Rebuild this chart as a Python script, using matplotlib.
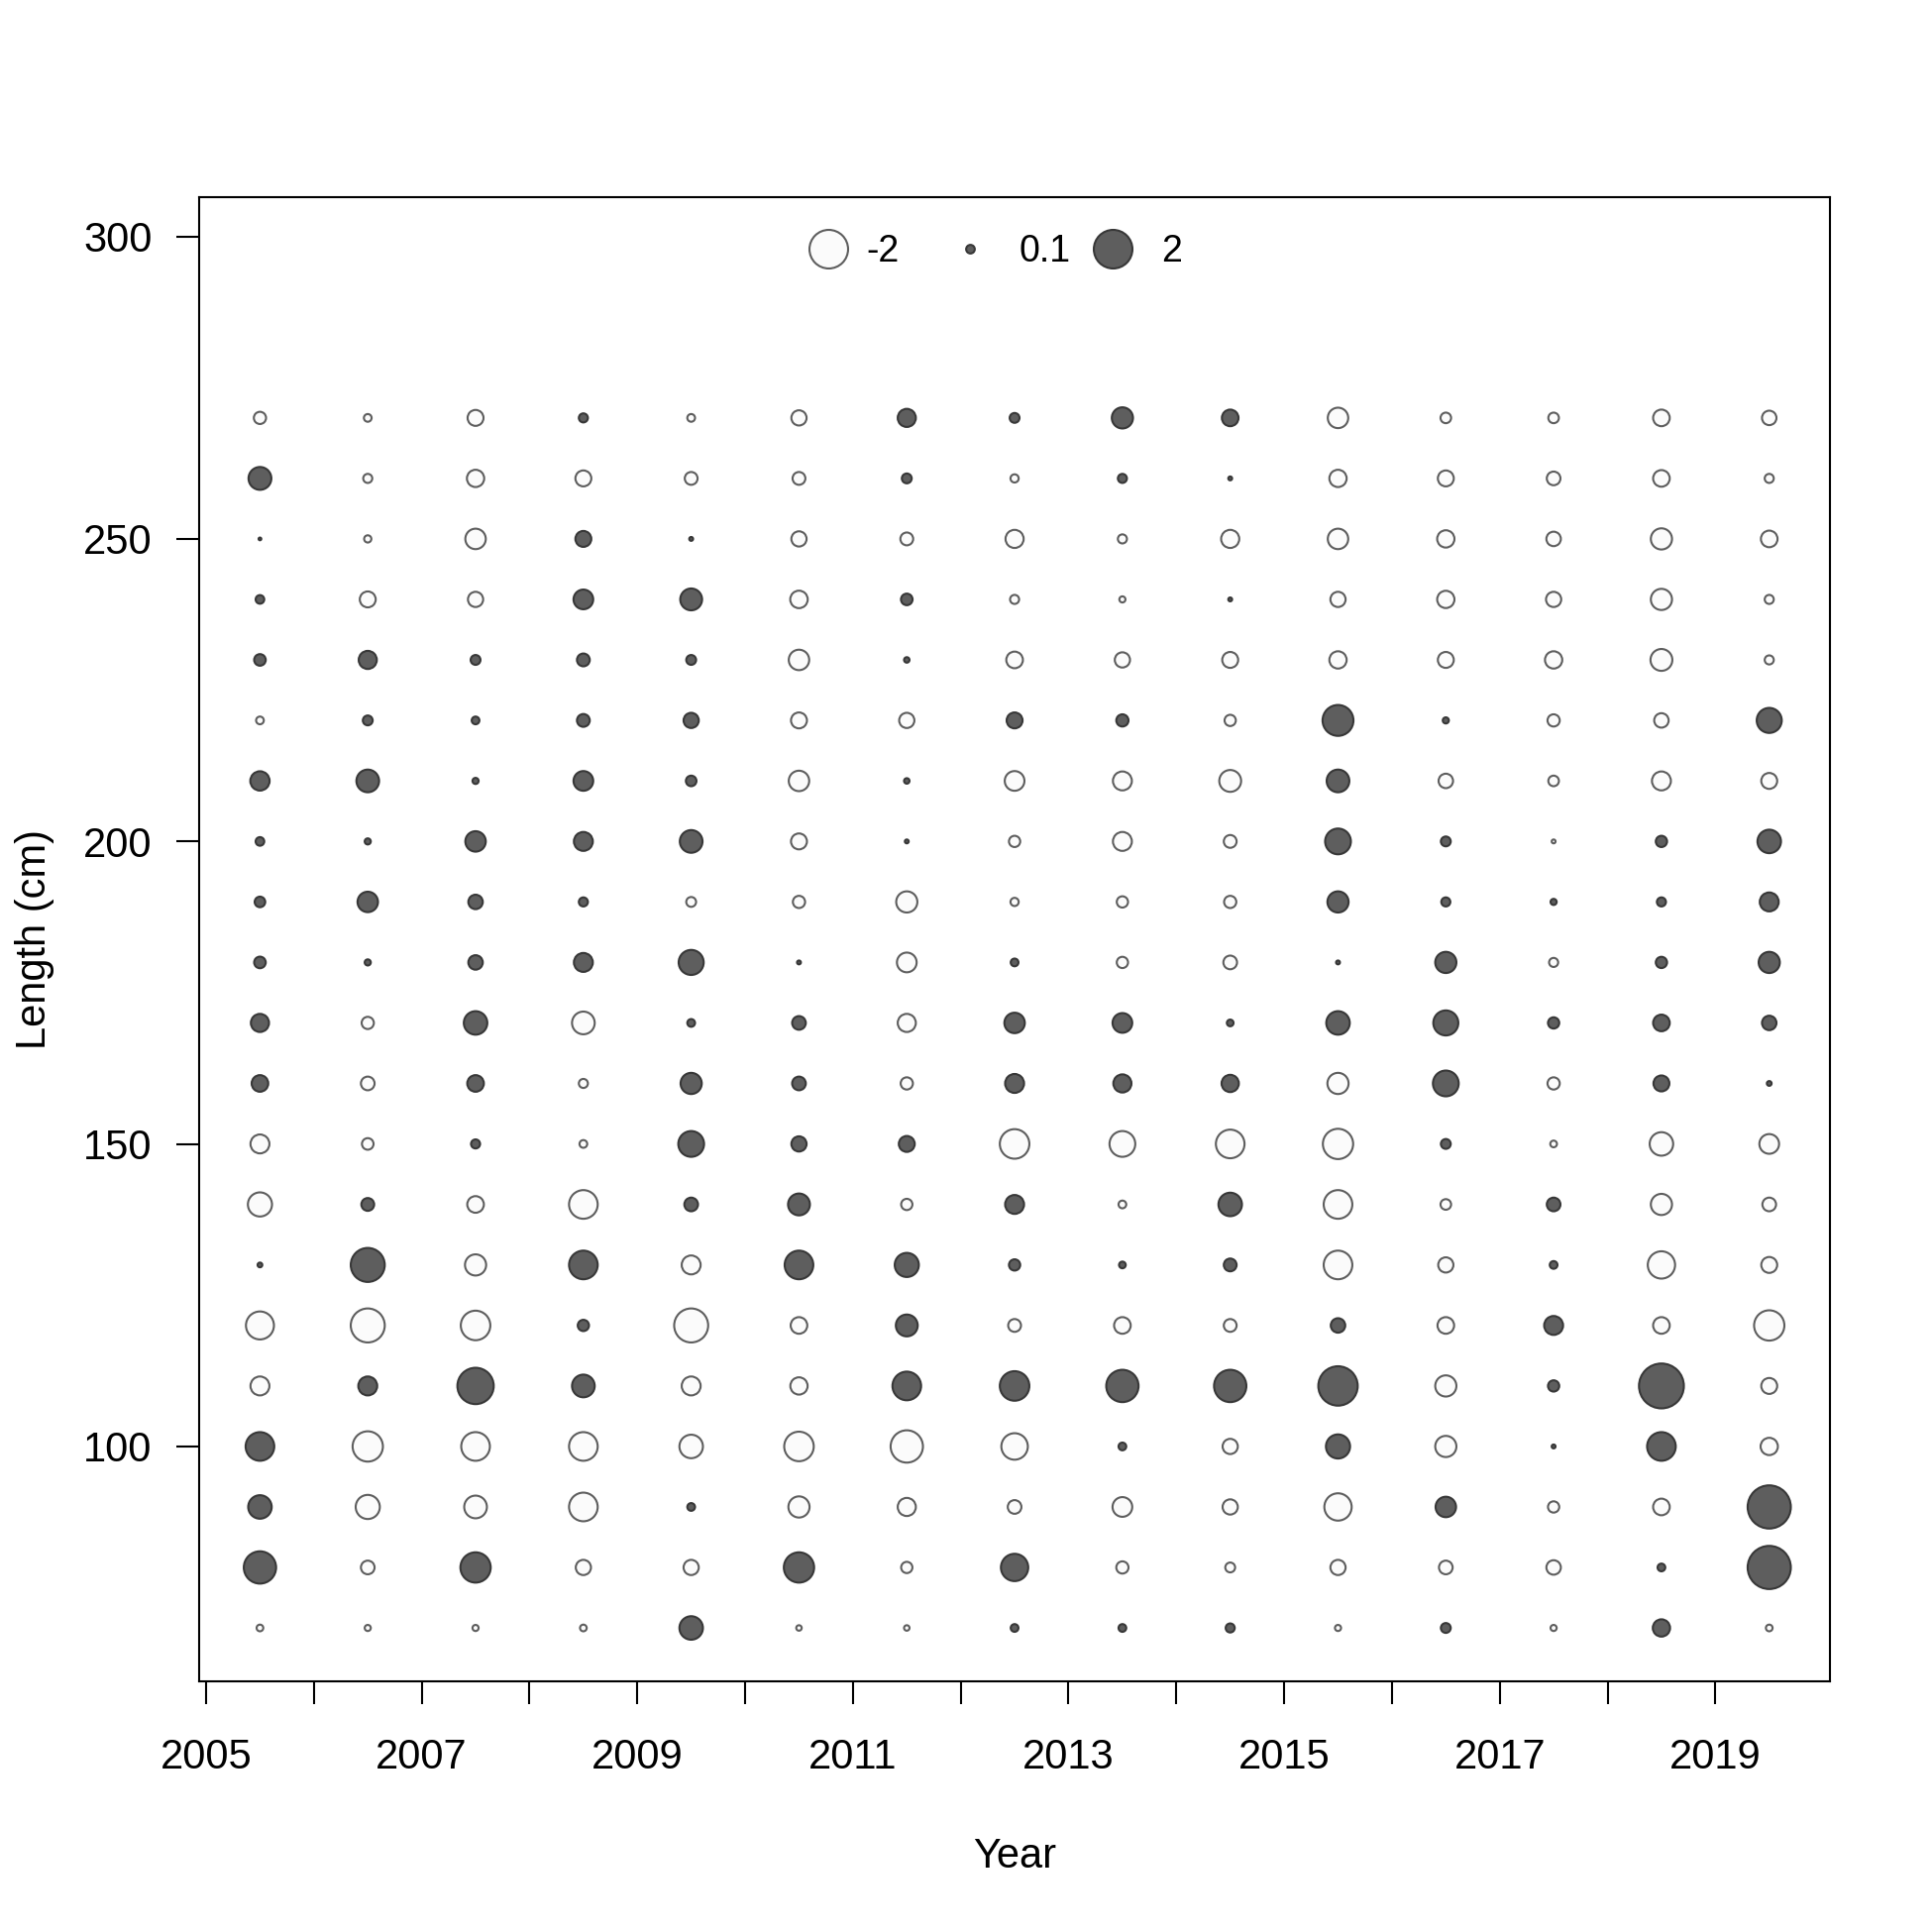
import numpy as np
import matplotlib
matplotlib.use("Agg")
import matplotlib.pyplot as plt

plt.rcParams['font.family'] = ['Liberation Sans', 'DejaVu Sans']

# Length bins (cm), ascending
lengths = [70, 80, 90, 100, 110, 120, 130, 140, 150, 160, 170,
           180, 190, 200, 210, 220, 230, 240, 250, 260, 270]
years = [2005, 2006, 2007, 2008, 2009, 2010, 2011, 2012, 2013, 2014,
         2015, 2016, 2017, 2018, 2019]

# Pearson residuals per year, ordered by lengths above
r2005 = [-0.06, 1.4, 0.74, 1.1, -0.48, -1.05, 0.03, -0.78, -0.48, 0.37, 0.44,
         0.18, 0.15, 0.1, 0.5, -0.08, 0.18, 0.1, 0.01, 0.7, -0.2]
r2006 = [-0.05, -0.25, -0.78, -1.23, 0.48, -1.55, 1.55, 0.22, -0.18, -0.25, -0.2,
         0.05, 0.56, 0.05, 0.69, 0.13, 0.44, -0.34, -0.07, -0.11, -0.08]
r2007 = [-0.05, 1.23, -0.69, -1.1, 1.77, -1.17, -0.6, -0.37, 0.11, 0.37, 0.74,
         0.28, 0.28, 0.56, 0.05, 0.08, 0.13, -0.31, -0.56, -0.4, -0.34]
r2008 = [-0.06, -0.31, -1.1, -1.1, 0.69, 0.17, 1.1, -1.1, -0.08, -0.11, -0.69,
         0.48, 0.11, 0.48, 0.52, 0.22, 0.22, 0.52, 0.34, -0.34, 0.11]
r2009 = [0.74, -0.31, 0.08, -0.74, -0.48, -1.55, -0.48, 0.25, 0.89, 0.6, 0.08,
         0.84, -0.13, 0.69, 0.15, 0.31, 0.13, 0.64, 0.02, -0.22, -0.08]
r2010 = [-0.04, 1.23, -0.6, -1.17, -0.4, -0.37, 1.1, 0.64, 0.31, 0.25, 0.25,
         0.02, -0.2, -0.34, -0.56, -0.34, -0.56, -0.41, -0.31, -0.22, -0.31]
r2011 = [-0.04, -0.17, -0.44, -1.4, 1.1, 0.64, 0.78, -0.17, 0.34, -0.2, -0.44,
         -0.52, -0.6, 0.02, 0.04, -0.31, 0.04, 0.18, -0.22, 0.13, 0.44]
r2012 = [0.08, 1.0, -0.25, -0.94, 1.17, -0.22, 0.17, 0.48, -1.17, 0.48, 0.56,
         0.08, -0.09, -0.17, -0.52, 0.34, -0.37, -0.11, -0.44, -0.09, 0.13]
r2013 = [0.08, -0.2, -0.52, 0.08, 1.4, -0.37, 0.06, -0.08, -0.89, 0.44, 0.52,
         -0.17, -0.17, -0.48, -0.48, 0.2, -0.31, -0.05, -0.11, 0.11, 0.6]
r2014 = [0.11, -0.13, -0.31, -0.31, 1.4, -0.22, 0.22, 0.74, -1.1, 0.4, 0.06,
         -0.25, -0.2, -0.22, -0.64, -0.17, -0.34, 0.02, -0.44, 0.02, 0.37]
r2015 = [-0.05, -0.31, -1.0, 0.78, 2.08, 0.28, -1.1, -1.1, -1.23, -0.6, 0.74,
         0.02, 0.6, 0.89, 0.69, 1.28, -0.4, -0.31, -0.56, -0.4, -0.56]
r2016 = [0.13, -0.25, 0.56, -0.6, -0.6, -0.37, -0.31, -0.15, 0.13, 0.89, 0.84,
         0.6, 0.11, 0.13, -0.28, 0.05, -0.34, -0.4, -0.4, -0.34, -0.15]
r2017 = [-0.05, -0.28, -0.17, 0.02, 0.17, 0.48, 0.08, 0.25, -0.06, -0.2, 0.17,
         -0.11, 0.05, -0.02, -0.15, -0.2, -0.4, -0.31, -0.28, -0.25, -0.15]
r2018 = [0.4, 0.08, -0.37, 1.1, 2.7, -0.37, -1.0, -0.6, -0.74, 0.34, 0.37,
         0.17, 0.11, 0.17, -0.48, -0.28, -0.64, -0.6, -0.6, -0.37, -0.37]
r2019 = [-0.06, 2.5, 2.5, -0.4, -0.34, -1.23, -0.34, -0.25, -0.52, 0.03, 0.28,
         0.6, 0.48, 0.74, -0.34, 0.84, -0.11, -0.11, -0.37, -0.11, -0.28]

residuals_by_year = [r2005, r2006, r2007, r2008, r2009, r2010, r2011, r2012,
                     r2013, r2014, r2015, r2016, r2017, r2018, r2019]

legend_values = [-2, 0.1, 2]
legend_labels = ["-2", "0.1", "2"]

xticks = list(range(2005, 2020))
xticklabels = [str(y) if (y - 2005) % 2 == 0 else "" for y in xticks]
yticks = [100, 150, 200, 250, 300]

FILL_POS = '#5e5e5e'
EDGE_POS = '#383838'
FILL_NEG = '#fbfbfb'
EDGE_NEG = '#5e5e5e'
SCALE = 175.0  # points^2 per unit |residual|

fig = plt.figure(figsize=(13, 13), dpi=150)
ax = fig.add_axes([0.1033, 0.1295, 0.8437, 0.7685])

xs, ys, vs = [], [], []
for yr, vals in zip(years, residuals_by_year):
    for L, v in zip(lengths, vals):
        xs.append(yr + 0.5)
        ys.append(L)
        vs.append(v)
xs = np.array(xs); ys = np.array(ys); vs = np.array(vs)
sizes = SCALE * np.abs(vs)
pos = vs >= 0
ax.scatter(xs[~pos], ys[~pos], s=sizes[~pos], facecolor=FILL_NEG,
           edgecolor=EDGE_NEG, linewidths=1.0, zorder=3)
ax.scatter(xs[pos], ys[pos], s=sizes[pos], facecolor=FILL_POS,
           edgecolor=EDGE_POS, linewidths=1.0, zorder=3)

# legend (drawn in axes coordinates)
leg_x = [0.3855, 0.4724, 0.5601]
leg_tx = [0.409, 0.5027, 0.5903]
for v, lab, xm, xt in zip(legend_values, legend_labels, leg_x, leg_tx):
    fc = FILL_POS if v >= 0 else FILL_NEG
    ec = EDGE_POS if v >= 0 else EDGE_NEG
    ax.scatter([xm], [0.9653], s=SCALE * abs(v), facecolor=fc, edgecolor=ec,
               linewidths=1.0, transform=ax.transAxes, clip_on=False, zorder=4)
    ax.text(xt, 0.9633, lab, transform=ax.transAxes, ha='left', va='center',
            fontsize=18)

ax.set_xlim(2004.94, 2020.06)
ax.set_ylim(61.1, 306.5)
ax.set_xticks(xticks)
ax.set_xticklabels(xticklabels)
ax.set_yticks(yticks)
ax.tick_params(axis='both', direction='out', length=11, width=1.0,
               labelsize=20, color='black')
ax.tick_params(axis='x', pad=16)
ax.tick_params(axis='y', pad=12)
for sp in ax.spines.values():
    sp.set_linewidth(1.0)
    sp.set_color('black')

ax.set_xlabel("Year", fontsize=20, labelpad=29)
ax.set_ylabel("Length (cm)", fontsize=20, labelpad=14)

fig.savefig("out.png", dpi=150, facecolor='white')
